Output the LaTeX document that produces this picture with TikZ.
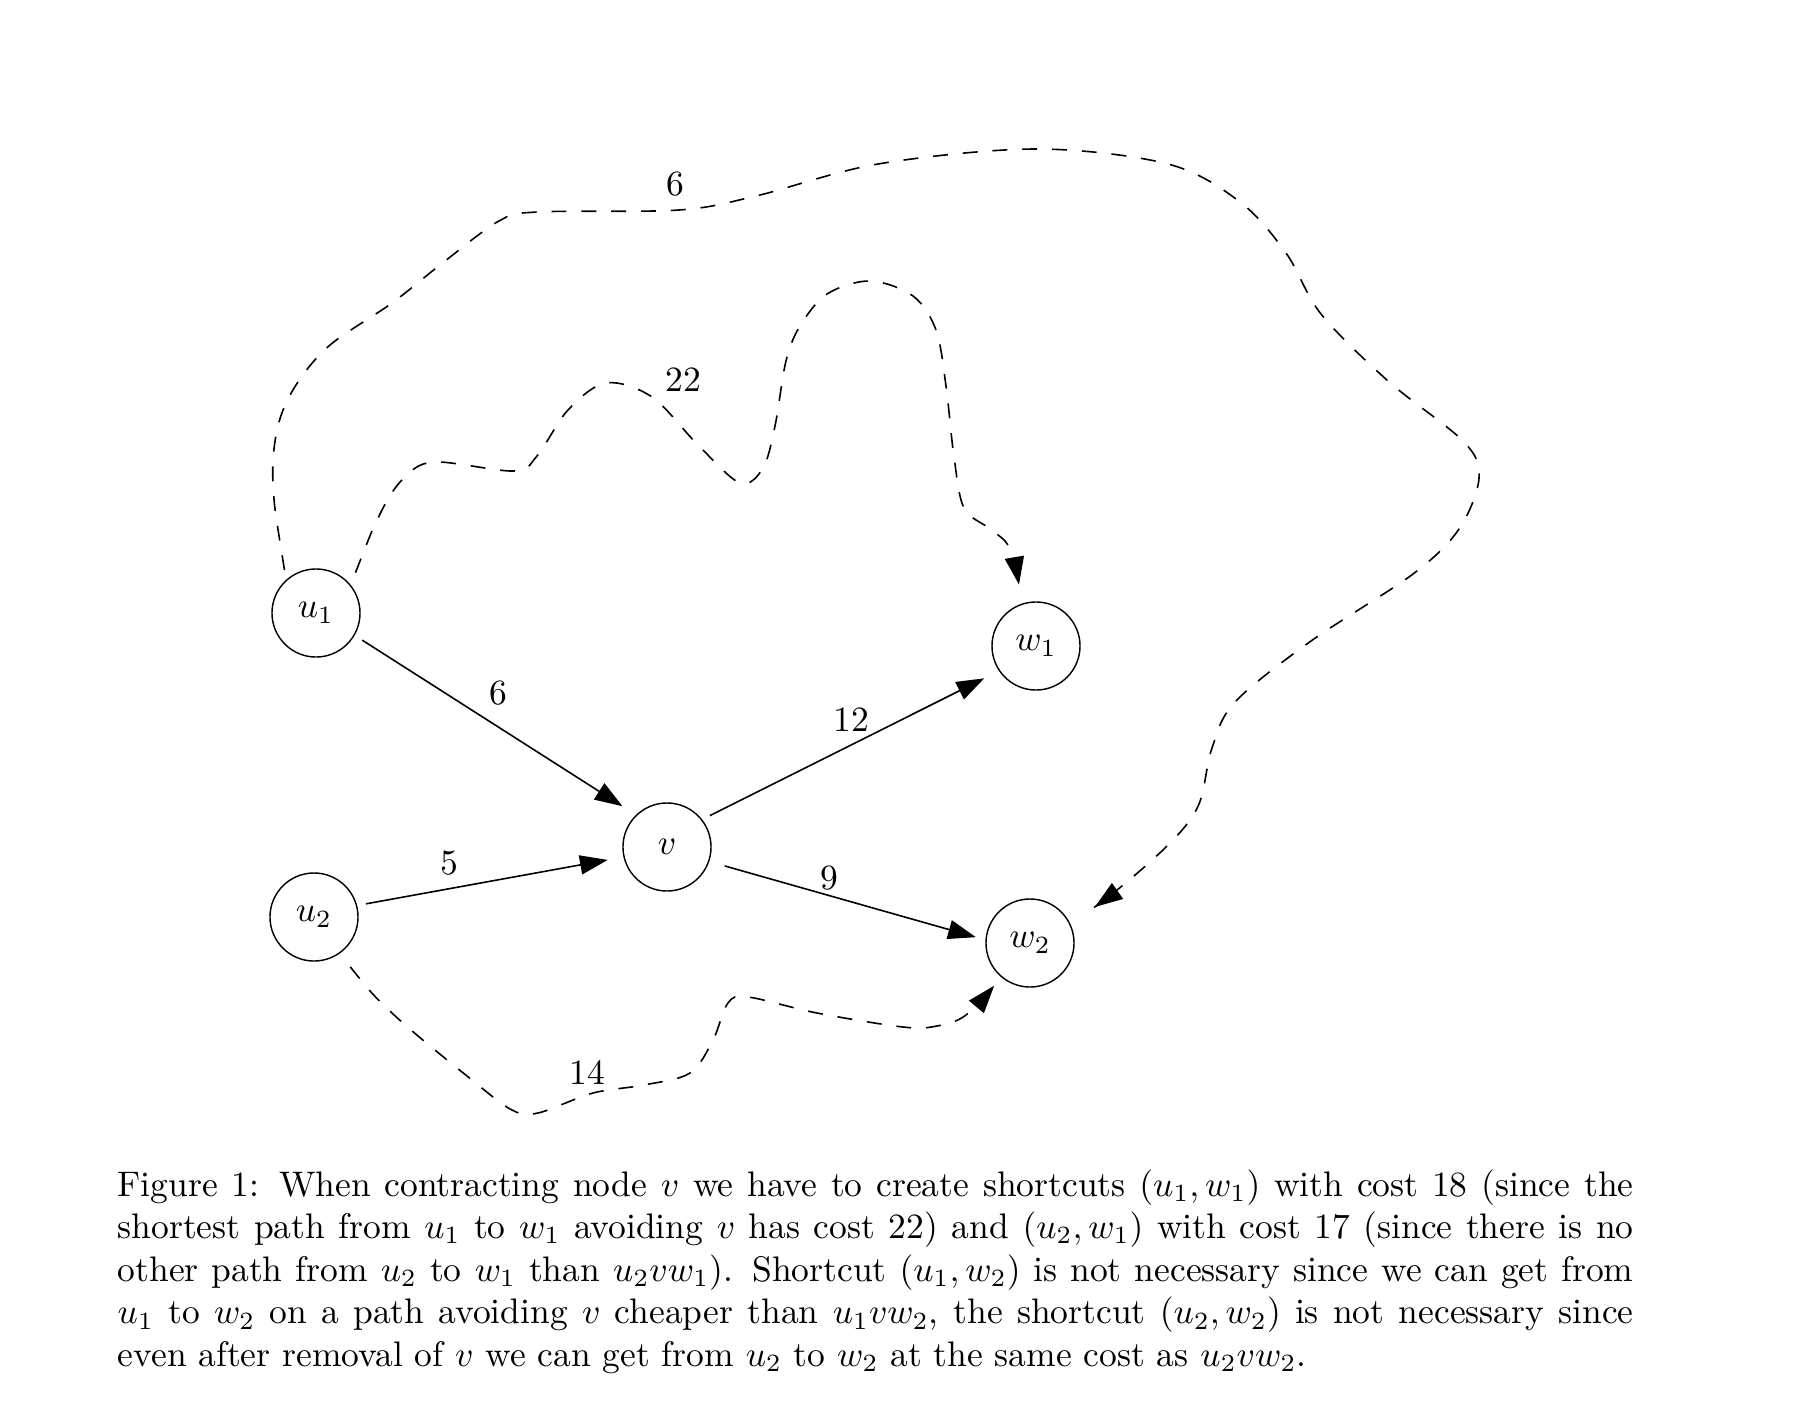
\documentclass[tikz,border=0pt]{standalone}
\usetikzlibrary{arrows.meta}
\begin{document}
\begin{tikzpicture}[x=0.2817pt,y=-0.2817pt,
  vtx/.style={circle,draw,line width=0.4pt,minimum size=24.8pt,inner sep=0pt},
  arr/.style={line width=0.45pt,-{Triangle[length=7.8pt,width=5.4pt]}},
  sc/.style={arr,dash pattern=on 4.2pt off 4.2pt},
  lbl/.style={inner sep=0pt}]
\useasboundingbox (0,0) rectangle (1796,1406);
% nodes
\node[vtx] (u1) at (316,613) {$u_1$};
\node[vtx] (u2) at (314,917) {$u_2$};
\node[vtx] (v)  at (667,847) {$v$};
\node[vtx] (w1) at (1036,646) {$w_1$};
\node[vtx] (w2) at (1030,943) {$w_2$};
% solid edges
\draw[arr,shorten <=2.5pt,shorten >=4.5pt] (u1.-30) -- (v.134);
\draw[arr,shorten <=2.5pt,shorten >=4.5pt] (u2.15.4) -- (v.193.6);
\draw[arr,shorten <=2.4pt,shorten >=4.6pt] (v.38.8) -- (w1.214.2);
\draw[arr,shorten <=4.5pt,shorten >=2.8pt] (v.-19.3) -- (w2.176.8);
% dashed shortcut paths
\draw[sc,shorten <=2.8pt,shorten >=8.4pt] plot[smooth,tension=0.55] coordinates {
  (u1.132) (273,483) (278,426) (296,385) (330,345) (392,303) (445,261) (499,221)
  (537,212) (679,210) (756,196) (878,164) (1036,149) (1168,164) (1240,202)
  (1286,253) (1321,314) (1388,381) (1464,442) (1479,478) (1459,529) (1413,574)
  (1311,641) (1235,702) (1212,748) (1199,804) (1173,840) (1122,886) (w2.25)};
\draw[sc,shorten <=3.7pt,shorten >=5.4pt] plot[smooth,tension=0.55] coordinates {
  (u1.39) (380,514) (403,479) (434,462) (514,471) (537,456) (568,410) (606,383)
  (652,397) (698,445) (740,483) (763,468) (775,426) (786,361) (800,326) (827,294)
  (870,281) (913,296) (936,330) (946,386) (954,457) (964,508) (990,529) (1010,549)
  (w1.108)};
\draw[sc,shorten <=4.8pt,shorten >=3.1pt] plot[smooth,tension=0.55] coordinates {
  (u2.-55) (392,1013) (472,1080) (512,1110) (538,1113) (593,1093) (644,1085)
  (690,1073) (713,1040) (728,1003) (748,997) (817,1013) (903,1027) (937,1026)
  (966,1015) (w2.230)};
% edge labels
\node[lbl] (l1) at (675,184) {6};
\node[lbl] (l2) at (683,380) {22};
\node[lbl] (l3) at (498,693) {6};
\node[lbl] (l4) at (851,720) {12};
\node[lbl] (l5) at (449,863) {5};
\node[lbl] (l6) at (829,878) {9};
\node[lbl] (l7) at (587,1072) {14};
% caption
\node[anchor=base west,inner sep=0pt] (cap) at (117,1196) {\parbox[t]{427pt}{\baselineskip=12pt
Figure 1: When contracting node $v$ we have to create shortcuts $(u_1,w_1)$ with cost 18 (since the\linebreak
shortest path from $u_1$ to $w_1$ avoiding $v$ has cost 22) and $(u_2,w_1)$ with cost 17 (since there is no\linebreak
other path from $u_2$ to $w_1$ than $u_2vw_1$). Shortcut $(u_1,w_2)$ is not necessary since we can get from\linebreak
$u_1$ to $w_2$ on a path avoiding $v$ cheaper than $u_1vw_2$, the shortcut $(u_2,w_2)$ is not necessary since\linebreak
even after removal of $v$ we can get from $u_2$ to $w_2$ at the same cost as $u_2vw_2$.}};
\end{tikzpicture}
\end{document}
